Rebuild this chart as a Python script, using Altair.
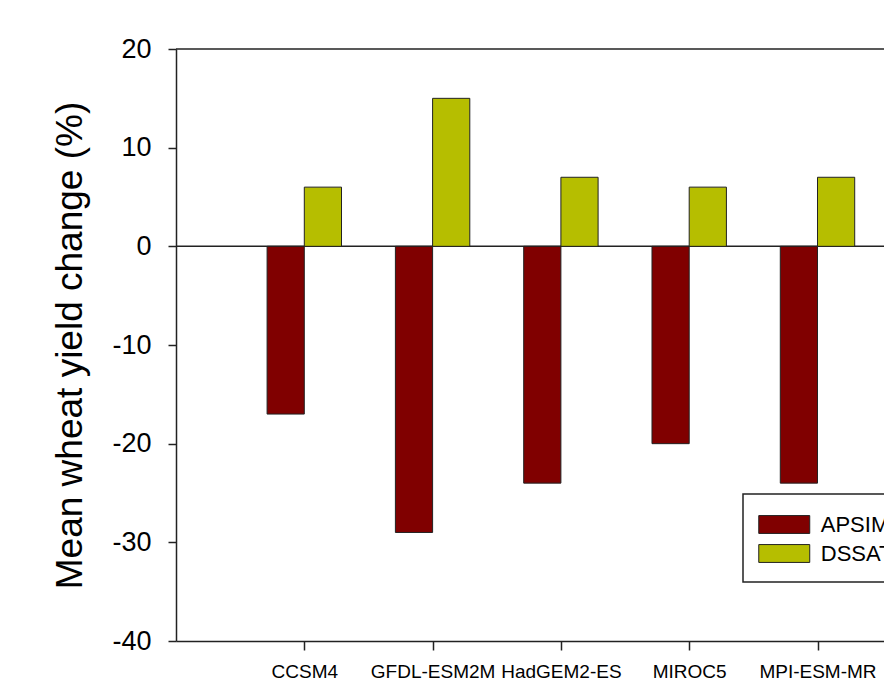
import altair as alt
import pandas as pd

# Climate models and mean yield change (%) simulated by each crop model
models = ["CCSM4", "GFDL-ESM2M", "HadGEM2-ES", "MIROC5", "MPI-ESM-MR"]
apsim = [-17, -29, -24, -20, -24]
dssat = [6, 15, 7, 6, 7]
series = ["APSIM", "DSSAT"]
colors = ["#800000", "#b6be00"]
y_ticks = [20, 10, 0, -10, -20, -30, -40]

rows = []
for i, m in enumerate(models):
    rows.append({"model": m, "pos": i + 1, "series": "APSIM", "value": apsim[i]})
    rows.append({"model": m, "pos": i + 1, "series": "DSSAT", "value": dssat[i]})
df = pd.DataFrame(rows)

FONT = "Liberation Sans"
INK = "#222222"
BAR_W = 0.29          # width of one bar, in category units
W, H = 708, 592       # plot area; the frame runs on past the right edge
STEP = 128.3          # pixels per category slot

x_scale = alt.Scale(domain=[0, W / STEP], nice=False, zero=False)
y_scale = alt.Scale(domain=[y_ticks[-1], y_ticks[0]], nice=False)

label_expr = "[" + ",".join(["''"] + [f"'{m}'" for m in models]) + "][datum.value]"

bars = alt.Chart(df).transform_calculate(
    x0=f"datum.series === 'APSIM' ? datum.pos - {BAR_W} : datum.pos",
    x1=f"datum.series === 'APSIM' ? datum.pos : datum.pos + {BAR_W}",
).mark_bar(stroke=INK, strokeWidth=1).encode(
    x=alt.X(
        "x0:Q",
        scale=x_scale,
        axis=alt.Axis(
            values=list(range(1, len(models) + 1)),
            labelExpr=label_expr,
            title=None,
            grid=False,
            labelFont=FONT,
            labelFontSize=19,
            labelColor="black",
            labelPadding=12,
            tickSize=9,
            tickColor=INK,
            tickWidth=1.5,
            domainColor=INK,
            domainWidth=1.5,
            labelFlush=False,
            labelOverlap=False,
        ),
    ),
    x2="x1:Q",
    y=alt.Y(
        "value:Q",
        scale=y_scale,
        axis=alt.Axis(
            values=y_ticks,
            labelExpr="'' + datum.value",
            title="Mean wheat yield change (%)",
            grid=False,
            labelFont=FONT,
            labelFontSize=27,
            labelColor="black",
            labelPadding=17,
            tickSize=8,
            tickColor=INK,
            tickWidth=1.5,
            domainColor=INK,
            domainWidth=1.5,
            titleFont=FONT,
            titleFontSize=37,
            titleFontWeight="normal",
            titleColor="black",
            titlePadding=22,
            labelFlush=False,
        ),
    ),
    y2=alt.datum(0),
    color=alt.Color(
        "series:N",
        scale=alt.Scale(domain=series, range=colors),
        legend=alt.Legend(
            title=None,
            orient="none",
            legendX=567,
            legendY=445,
            symbolType="M-2,-0.7L2,-0.7L2,0.7L-2,0.7Z",
            symbolSize=650,
            symbolOffset=10.75,
            symbolStrokeColor=INK,
            symbolStrokeWidth=1,
            symbolOpacity=1,
            labelFont=FONT,
            labelFontSize=22,
            labelColor="black",
            labelOffset=23,
            padding=17,
            rowPadding=4,
            strokeColor=INK,
            fillColor="white",
        ),
    ),
)

zero_line = alt.Chart(pd.DataFrame({"v": [0]})).mark_rule(
    color=INK, strokeWidth=1.5
).encode(y=alt.Y("v:Q", scale=y_scale))

top_line = alt.Chart(pd.DataFrame({"v": [y_ticks[0]]})).mark_rule(
    color=INK, strokeWidth=1.5
).encode(y=alt.Y("v:Q", scale=y_scale))

chart = (
    alt.layer(zero_line, top_line, bars)
    .properties(
        width=W,
        height=H,
        autosize=alt.AutoSizeParams(type="none"),
        padding={"left": 176, "top": 49, "right": 0, "bottom": 57},
        background="white",
    )
    .configure_view(stroke=None)
    .configure_legend(strokeWidth=1.5)
)

chart.save("out.html", embed_options={"renderer": "svg", "actions": False})
